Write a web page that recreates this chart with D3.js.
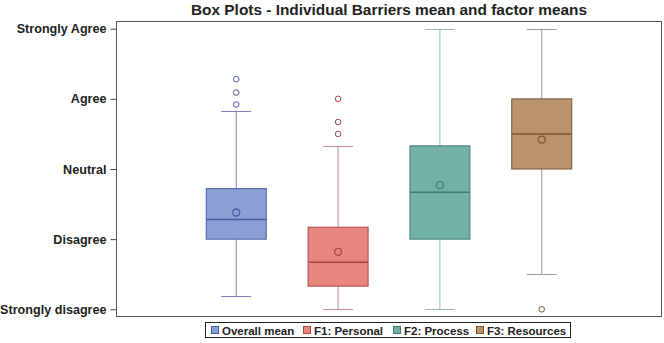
<!DOCTYPE html>
<html>
<head>
<meta charset="utf-8">
<script src="https://cdn.jsdelivr.net/npm/d3@7"></script>
<style>
  html, body { margin: 0; padding: 0; background: #fff; }
  svg text { font-family: Arial, "Liberation Sans", sans-serif; }
</style>
</head>
<body>
<div id="chart"></div>
<script>
// Box plots on a 1..5 Likert scale.
const categories = ['Overall mean', 'F1: Personal', 'F2: Process', 'F3: Resources'];
const whiskerLow  = [1.19, 1.00, 1.00, 1.50];
const q1          = [2.00, 1.33, 2.00, 3.00];
const medians     = [2.28, 1.67, 2.67, 3.50];
const q3          = [2.72, 2.17, 3.33, 4.00];
const whiskerHigh = [3.83, 3.33, 5.00, 5.00];
const means       = [2.38, 1.82, 2.77, 3.42];
const outliers    = [[3.92, 4.09, 4.28], [3.50, 3.67, 4.00], [], [1.00]];

const yTickValues = [1, 2, 3, 4, 5];
const yTickLabels = ['Strongly disagree', 'Disagree', 'Neutral', 'Agree', 'Strongly Agree'];

const COLORS = [
  { fill: '#899fd5', line: '#4b5b9c', whisk: '#8087b4' },
  { fill: '#e8867e', line: '#ad4548', whisk: '#c98a9a' },
  { fill: '#73b0a7', line: '#3f7c74', whisk: '#95bdb7' },
  { fill: '#b9936b', line: '#7a5836', whisk: '#a39a8c' },
];

const W = 664, H = 343;
const frame = { left: 116.5, right: 661.5, top: 21.5, bottom: 316.5 };

const svg = d3.select('#chart').append('svg').attr('width', W).attr('height', H);

const x = d3.scalePoint().domain(categories).range([frame.left, frame.right]).padding(1.176);
const y = d3.scaleLinear().domain([1, 5]).range([309.3, 28.7]);
const boxW = 60, capW = 30;

// Title
svg.append('text').attr('x', 389).attr('y', 14.5)
  .attr('text-anchor', 'middle').style('font-size', '15.4px').style('font-weight', 'bold')
  .style('fill', '#222').text('Box Plots - Individual Barriers mean and factor means');

// Y axis
const yAxis = svg.append('g').attr('transform', `translate(${frame.left},0)`)
  .call(d3.axisLeft(y).tickValues(yTickValues).tickSize(6).tickPadding(4)
    .tickFormat((d, i) => yTickLabels[i]));
yAxis.select('.domain').remove();
yAxis.selectAll('line').attr('stroke', '#444');
yAxis.selectAll('text').style('font-size', '12.6px').style('font-weight', 'bold')
  .style('fill', '#222').style('font-family', 'Arial, "Liberation Sans", sans-serif');

// Boxes
const g = svg.append('g');
categories.forEach((c, i) => {
  const cx = x(c), col = COLORS[i];
  // whiskers
  g.append('line').attr('x1', cx).attr('x2', cx).attr('y1', y(q3[i])).attr('y2', y(whiskerHigh[i]))
    .attr('stroke', col.whisk).attr('stroke-width', 1);
  g.append('line').attr('x1', cx).attr('x2', cx).attr('y1', y(q1[i])).attr('y2', y(whiskerLow[i]))
    .attr('stroke', col.whisk).attr('stroke-width', 1);
  [whiskerHigh[i], whiskerLow[i]].forEach(v => {
    g.append('line').attr('x1', cx - capW / 2).attr('x2', cx + capW / 2)
      .attr('y1', Math.round(y(v)) + 0.5).attr('y2', Math.round(y(v)) + 0.5)
      .attr('stroke', col.whisk).attr('stroke-width', 1);
  });
  // box
  g.append('rect').attr('x', cx - boxW / 2).attr('y', y(q3[i]))
    .attr('width', boxW).attr('height', y(q1[i]) - y(q3[i]))
    .attr('fill', col.fill).attr('stroke', col.line).attr('stroke-width', 1);
  // median
  g.append('line').attr('x1', cx - boxW / 2).attr('x2', cx + boxW / 2)
    .attr('y1', y(medians[i])).attr('y2', y(medians[i]))
    .attr('stroke', col.line).attr('stroke-width', 1.5);
  // mean
  g.append('circle').attr('cx', cx).attr('cy', y(means[i])).attr('r', 3.5)
    .attr('fill', 'none').attr('stroke', col.line).attr('stroke-width', 1.3);
  // outliers
  outliers[i].forEach(v => {
    g.append('circle').attr('cx', cx).attr('cy', y(v)).attr('r', 2.8)
      .attr('fill', '#fff').attr('stroke', col.line).attr('stroke-width', 1);
  });
});

// Frame
svg.append('rect').attr('x', frame.left).attr('y', frame.top)
  .attr('width', frame.right - frame.left).attr('height', frame.bottom - frame.top)
  .attr('fill', 'none').attr('stroke', '#555').attr('stroke-width', 1);

// Legend
const lg = svg.append('g');
lg.append('rect').attr('x', 205.5).attr('y', 322.5).attr('width', 365).attr('height', 15)
  .attr('fill', '#fff').attr('stroke', '#222').attr('stroke-width', 1);
const legX = [211, 303, 393, 476];
categories.forEach((c, i) => {
  lg.append('rect').attr('x', legX[i] + 0.5).attr('y', 326.5).attr('width', 7).attr('height', 7)
    .attr('fill', COLORS[i].fill).attr('stroke', COLORS[i].line).attr('stroke-width', 1);
  lg.append('text').attr('x', legX[i] + 11).attr('y', 334.5)
    .style('font-size', '11.5px').style('font-weight', 'bold').style('fill', '#222').text(c);
});
</script>
</body>
</html>
